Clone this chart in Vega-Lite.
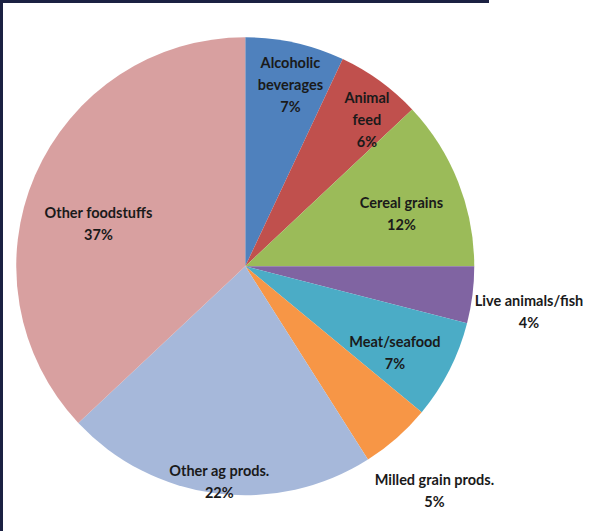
{
  "$schema": "https://vega.github.io/schema/vega-lite/v6.json",
  "width": 487.5,
  "height": 529.5,
  "autosize": {"type": "none"},
  "padding": {"left": 1.5, "top": 1.5, "right": 106, "bottom": 0},
  "background": "#ffffff",
  "view": {"stroke": "#1b2142", "strokeWidth": 3, "strokeDash": [487.5, 1017, 529.5]},
  "config": {
    "text": {"font": "Lato", "fontWeight": "bold", "fontSize": 14.5, "lineHeight": 22, "fill": "#1a1a1a", "align": "center", "baseline": "middle", "lineBreak": "\n"}
  },
  "data": {
    "values": [
      {"idx": 1, "name": "Alcoholic beverages", "label": "Alcoholic\nbeverages\n7%", "value": 7},
      {"idx": 2, "name": "Animal feed", "label": "Animal\nfeed\n6%", "value": 6},
      {"idx": 3, "name": "Cereal grains", "label": "Cereal grains\n12%", "value": 12},
      {"idx": 4, "name": "Live animals/fish", "label": "Live animals/fish\n4%", "value": 4},
      {"idx": 5, "name": "Meat/seafood", "label": "Meat/seafood\n7%", "value": 7},
      {"idx": 6, "name": "Milled grain prods.", "label": "Milled grain prods.\n5%", "value": 5},
      {"idx": 7, "name": "Other ag prods.", "label": "Other ag prods.\n22%", "value": 22},
      {"idx": 8, "name": "Other foodstuffs", "label": "Other foodstuffs\n37%", "value": 37}
    ]
  },
  "encoding": {
    "theta": {"field": "value", "type": "quantitative", "stack": true},
    "order": {"field": "idx", "type": "quantitative"}
  },
  "layer": [
    {
      "mark": {"type": "arc", "outerRadius": 229},
      "encoding": {
        "color": {
          "field": "name", "type": "nominal", "legend": null,
          "scale": {
            "domain": ["Alcoholic beverages", "Animal feed", "Cereal grains", "Live animals/fish", "Meat/seafood", "Milled grain prods.", "Other ag prods.", "Other foodstuffs"],
            "range": ["#4f81bd", "#c0504d", "#9bbb59", "#8064a2", "#4bacc6", "#f79646", "#a6b8da", "#d8a0a0"]
          }
        }
      }
    },
    {
      "mark": {"type": "text", "radius": 207},
      "encoding": {
        "text": {"field": "label"},
        "opacity": {"condition": {"test": "indexof(['Alcoholic beverages','Animal feed','Other ag prods.'], datum.name) >= 0", "value": 1}, "value": 0}
      }
    },
    {
      "mark": {"type": "text", "radius": 168},
      "encoding": {
        "text": {"field": "label"},
        "opacity": {"condition": {"test": "indexof(['Cereal grains','Meat/seafood'], datum.name) >= 0", "value": 1}, "value": 0}
      }
    },
    {
      "mark": {"type": "text", "radius": 160, "dy": 11},
      "encoding": {
        "text": {"field": "label"},
        "opacity": {"condition": {"test": "datum.name === 'Other foodstuffs'", "value": 1}, "value": 0}
      }
    },
    {
      "mark": {"type": "text", "radius": 286},
      "encoding": {
        "text": {"field": "label"},
        "opacity": {"condition": {"test": "indexof(['Live animals/fish','Milled grain prods.'], datum.name) >= 0", "value": 1}, "value": 0}
      }
    }
  ]
}
